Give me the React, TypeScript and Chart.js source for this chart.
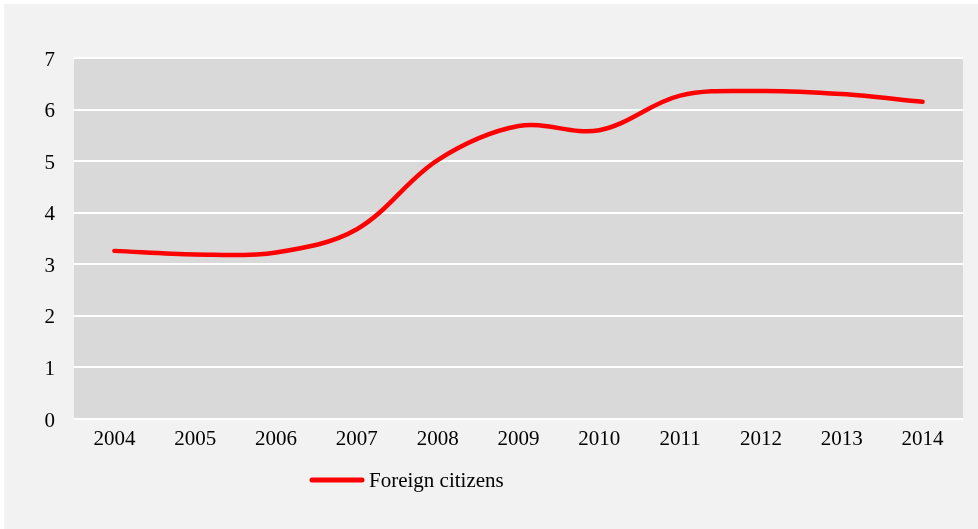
import React, { useEffect, useRef } from "react";
import { Chart, registerables } from "chart.js";

Chart.register(...registerables);

const years = ["2004", "2005", "2006", "2007", "2008", "2009", "2010", "2011", "2012", "2013", "2014"];
const foreignCitizens = [3.26, 3.19, 3.23, 3.68, 5.02, 5.68, 5.6, 6.27, 6.36, 6.3, 6.15];
const seriesLabel = "Foreign citizens";
const yMin = 0;
const yMax = 7;

const FONT = "'Liberation Serif', 'Times New Roman', serif";

const bgPlugin = {
  id: "bgPlugin",
  beforeDraw(chart: any) {
    const { ctx, width, height, chartArea } = chart;
    ctx.save();
    ctx.fillStyle = "#ffffff";
    ctx.fillRect(0, 0, width, height);
    ctx.fillStyle = "#f2f2f2";
    ctx.fillRect(4, 4, width - 4, height - 4);
    ctx.fillStyle = "#d9d9d9";
    ctx.fillRect(chartArea.left, chartArea.top, chartArea.right - chartArea.left, chartArea.bottom - chartArea.top);
    ctx.restore();
  },
  afterDraw(chart: any) {
    const { ctx } = chart;
    const ds = chart.data.datasets[0];
    ctx.save();
    ctx.strokeStyle = ds.borderColor;
    ctx.lineWidth = 5;
    ctx.lineCap = "round";
    ctx.beginPath();
    ctx.moveTo(312, 480);
    ctx.lineTo(362, 480);
    ctx.stroke();
    ctx.fillStyle = "#000000";
    ctx.font = `21px ${FONT}`;
    ctx.textBaseline = "middle";
    ctx.textAlign = "left";
    ctx.fillText(ds.label, 369, 481);
    ctx.restore();
  },
};

export default function App() {
  const ref = useRef<HTMLCanvasElement | null>(null);
  useEffect(() => {
    if (!ref.current) return;
    const chart = new Chart(ref.current, {
      type: "line",
      data: {
        labels: years,
        datasets: [
          {
            label: seriesLabel,
            data: foreignCitizens,
            borderColor: "#ff0000",
            backgroundColor: "#ff0000",
            borderWidth: 4.5,
            borderCapStyle: "round",
            pointRadius: 0,
            tension: 0.35,
            fill: false,
          },
        ],
      },
      options: {
        animation: false,
        responsive: false,
        maintainAspectRatio: false,
        layout: { padding: { left: 4, right: 15, top: 58, bottom: 0 } },
        plugins: {
          legend: { display: false },
          title: { display: false },
          tooltip: { enabled: false },
        },
        scales: {
          x: {
            offset: true,
            grid: { display: false, drawTicks: false },
            border: { display: false },
            ticks: { color: "#000", font: { family: FONT, size: 21 }, padding: 8, maxRotation: 0 },
            afterFit(scale: any) {
              scale.height = 110;
            },
          },
          y: {
            min: yMin,
            max: yMax,
            grid: { color: "#ffffff", lineWidth: 2, drawTicks: false },
            border: { display: false },
            ticks: { stepSize: 1, color: "#000", font: { family: FONT, size: 21 }, padding: 19, labelOffset: 2 },
            afterFit(scale: any) {
              scale.width = 70;
            },
          },
        },
      },
      plugins: [bgPlugin],
    } as any);
    return () => chart.destroy();
  }, []);
  return (
    <div style={{ position: "fixed", left: 0, top: 0, width: 978, height: 529 }}>
      <canvas ref={ref} width={978} height={529} style={{ display: "block", width: 978, height: 529 }} />
    </div>
  );
}
